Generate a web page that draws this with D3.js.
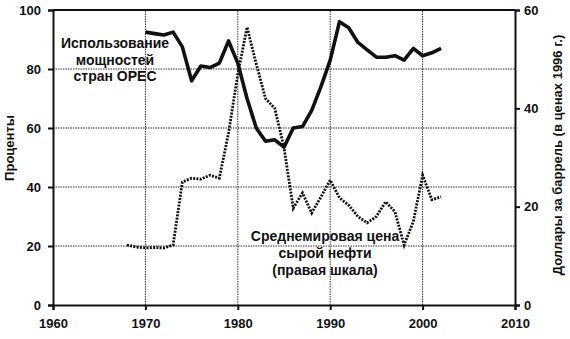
<!DOCTYPE html>
<html>
<head>
<meta charset="utf-8">
<script src="https://cdn.jsdelivr.net/npm/d3@7"></script>
<style>
  body { margin: 0; background: #fff; }
  svg text { font-family: "Liberation Sans", Arial, sans-serif; fill: #111; }
</style>
</head>
<body>
<svg id="chart" width="570" height="339"></svg>
<script>
// OPEC capacity utilisation, % (left scale)
const capYears = d3.range(1970, 2003);
const capValues = [92.5, 92, 91.5, 92.5, 87.5, 76, 81, 80.5, 82, 89.5,
                   82, 70, 60, 55.5, 56, 53.5, 60, 60.5, 66, 74,
                   83, 96, 94, 89, 86.5, 84, 84, 84.5, 83, 87,
                   84.5, 85.5, 87];

// world crude oil price, $ per barrel in 1996 prices (right scale)
const oilYears = d3.range(1968, 2003);
const oilValues = [12.2, 11.8, 11.6, 11.7, 11.6, 12.2, 25, 25.8, 25.6, 26.4,
                   25.8, 35, 47, 56.5, 49, 42, 40, 32, 19.7, 22.8,
                   18.7, 22, 25.4, 21.8, 20.3, 18, 16.7, 18, 21, 19,
                   12.2, 17, 26.4, 21.4, 22];

const xTicks = [1960, 1970, 1980, 1990, 2000, 2010];
const leftTicks = [0, 20, 40, 60, 80, 100];
const rightTicks = [0, 20, 40, 60];

const capLabel = ["Использование", "мощностей", "стран OPEC"];
const oilLabel = ["Среднемировая цена", "сырой нефти", "(правая шкала)"];

const margin = {top: 10, right: 55, bottom: 34, left: 53};
const W = 570, H = 339;
const svg = d3.select("#chart");

const x = d3.scaleLinear().domain([1960, 2010]).range([margin.left, W - margin.right]);
const yL = d3.scaleLinear().domain([0, 100]).range([H - margin.bottom, margin.top]);
const yR = d3.scaleLinear().domain([0, 60]).range([H - margin.bottom, margin.top]);

// dotted grid
const grid = svg.append("g").attr("stroke", "#333").attr("stroke-width", 1)
    .attr("stroke-dasharray", "1.5,1");
grid.selectAll("line.h").data([20, 40, 60, 80]).join("line")
    .attr("x1", x(1960)).attr("x2", x(2010))
    .attr("y1", d => yL(d)).attr("y2", d => yL(d));
grid.selectAll("line.v").data([1970, 1980, 1990, 2000]).join("line")
    .attr("x1", d => x(d)).attr("x2", d => x(d))
    .attr("y1", yL(0)).attr("y2", yL(100));

// top frame
svg.append("line")
    .attr("x1", x(1960)).attr("x2", x(2010))
    .attr("y1", yL(100)).attr("y2", yL(100))
    .attr("stroke", "#111").attr("stroke-width", 2);

// axes
function styleAxis(g) {
    g.select(".domain").attr("stroke", "#111").attr("stroke-width", 2);
    g.selectAll(".tick line").attr("stroke", "#111").attr("stroke-width", 2);
    g.selectAll(".tick text")
        .attr("font-size", 13).attr("font-weight", "bold")
        .attr("font-family", "Liberation Sans, Arial, sans-serif").attr("fill", "#111");
}

svg.append("g")
    .attr("transform", `translate(0,${yL(0)})`)
    .call(d3.axisBottom(x).tickValues(xTicks).tickFormat(d3.format("d"))
        .tickSizeOuter(0).tickSize(5).tickPadding(9))
    .call(styleAxis);

svg.append("g")
    .attr("transform", `translate(${x(1960)},0)`)
    .call(d3.axisLeft(yL).tickValues(leftTicks).tickSizeOuter(0).tickSize(5).tickPadding(7))
    .call(styleAxis);

svg.append("g")
    .attr("transform", `translate(${x(2010)},0)`)
    .call(d3.axisRight(yR).tickValues(rightTicks).tickSizeOuter(0).tickSize(5).tickPadding(4))
    .call(styleAxis);

// series
const oilLine = d3.line().x((d, i) => x(oilYears[i])).y(d => yR(d));
svg.append("path").datum(oilValues)
    .attr("d", oilLine)
    .attr("fill", "none").attr("stroke", "#111").attr("stroke-width", 2.8)
    .attr("stroke-dasharray", "2,1.3");

const capLine = d3.line().x((d, i) => x(capYears[i])).y(d => yL(d));
svg.append("path").datum(capValues)
    .attr("d", capLine)
    .attr("fill", "none").attr("stroke", "#111").attr("stroke-width", 3.6)
    .attr("stroke-linejoin", "round");

// annotations
svg.append("g").selectAll("text").data(capLabel).join("text")
    .attr("x", 115).attr("y", (d, i) => 48 + i * 16.5)
    .attr("text-anchor", "middle").attr("font-size", 14).attr("font-weight", "bold")
    .text(d => d);

svg.append("g").selectAll("text").data(oilLabel).join("text")
    .attr("x", 325).attr("y", (d, i) => 241 + i * 17)
    .attr("text-anchor", "middle").attr("font-size", 14).attr("font-weight", "bold")
    .text(d => d);

// axis titles
svg.append("text")
    .attr("transform", `translate(14,${148}) rotate(-90)`)
    .attr("text-anchor", "middle").attr("font-size", 13).attr("font-weight", "bold")
    .text("Проценты");

svg.append("text")
    .attr("transform", `translate(562,${155}) rotate(-90)`)
    .attr("text-anchor", "middle").attr("font-size", 13).attr("font-weight", "bold")
    .text("Доллары за баррель (в ценах 1996 г.)");
</script>
</body>
</html>
